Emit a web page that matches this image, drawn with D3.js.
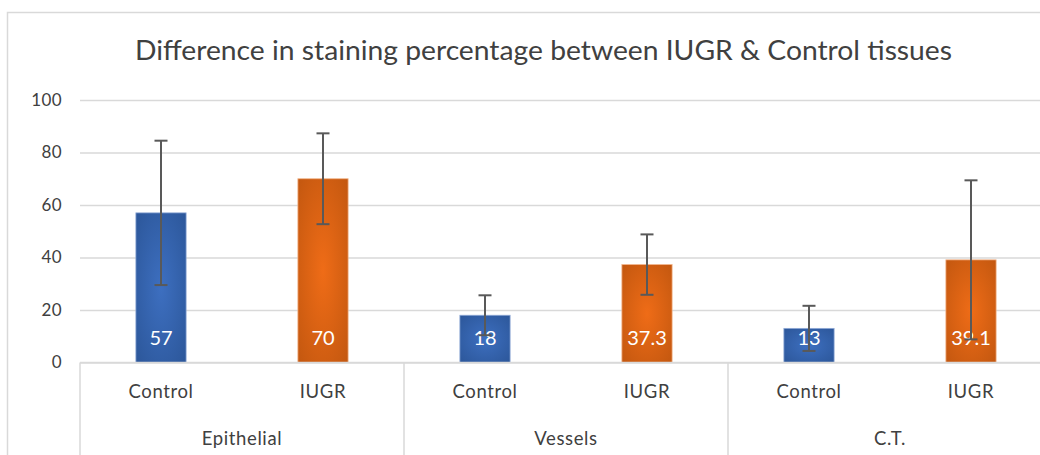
<!DOCTYPE html>
<html>
<head>
<meta charset="utf-8">
<script src="https://cdn.jsdelivr.net/npm/d3@7"></script>
<style>
body { margin: 0; background: #fff; }
svg { display: block; font-family: Lato, "Open Sans", sans-serif; }
</style>
</head>
<body>
<script>
// chart data
const groups = ["Epithelial", "Vessels", "C.T."];
const subgroups = ["Control", "IUGR"];
const controlValues = [57, 18, 13];
const iugrValues = [70, 37.3, 39.1];
const controlErrors = [27.5, 7.6, 8.6];
const iugrErrors = [17.3, 11.5, 30.3];
const yTicks = [0, 20, 40, 60, 80, 100];
const title = "Difference in staining percentage between IUGR & Control tissues";

function draw() {
const width = 1040;
const height = 455;
const left = 80, right = 1052, top = 100, bottom = 362.5;

const svg = d3.select("body")
	.append("svg")
	.attr("width", width)
	.attr("height", height);

const defs = svg.append("defs");
const grads = { Control: ["#3d6fc0", "#2b5597"], IUGR: ["#ef6c17", "#c0560f"] };
Object.keys(grads).forEach(k => {
	const g = defs.append("radialGradient").attr("id", "grad" + k)
		.attr("cx", "50%").attr("cy", "50%").attr("r", "75%");
	g.append("stop").attr("offset", "0%").attr("stop-color", grads[k][0]);
	g.append("stop").attr("offset", "100%").attr("stop-color", grads[k][1]);
});

// outer chart border (cropped on the right and bottom)
svg.append("rect")
	.attr("x", 7.5).attr("y", 12.5)
	.attr("width", 1100).attr("height", 500)
	.attr("fill", "none")
	.attr("stroke", "#d9d9d9")
	.attr("stroke-width", 1.5);

svg.append("text")
	.attr("x", 543.5).attr("y", 60)
	.attr("text-anchor", "middle")
	.attr("font-size", 26)
	.attr("fill", "#404040")
	.attr("textLength", 817)
	.attr("lengthAdjust", "spacingAndGlyphs")
	.text(title);

const y = d3.scaleLinear().domain([0, 100]).range([bottom, top]);
const x0 = d3.scaleBand().domain(groups).range([left, right]);
const x1 = d3.scaleBand().domain(subgroups).range([0, x0.bandwidth()])
	.paddingInner(0.69).paddingOuter(0.345);

const yAxis = svg.append("g")
	.attr("transform", "translate(" + left + ",0)")
	.call(d3.axisLeft(y).tickValues(yTicks).tickSize(-(right - left)).tickPadding(18));
yAxis.select(".domain").remove();
yAxis.selectAll(".tick line").attr("stroke", "#d9d9d9").attr("stroke-width", 1.5);
yAxis.selectAll(".tick text")
	.attr("font-size", 17)
	.attr("letter-spacing", 0.4)
	.attr("fill", "#404040")
	.attr("font-family", "Lato, sans-serif");

// rows for bars
const rows = [];
groups.forEach((g, i) => {
	rows.push({ group: g, sub: "Control", value: controlValues[i], err: controlErrors[i] });
	rows.push({ group: g, sub: "IUGR", value: iugrValues[i], err: iugrErrors[i] });
});
const cx = d => x0(d.group) + x1(d.sub) + x1.bandwidth() / 2;

svg.append("g").selectAll("rect")
	.data(rows)
	.enter()
	.append("rect")
	.attr("x", d => x0(d.group) + x1(d.sub))
	.attr("y", d => y(d.value))
	.attr("width", x1.bandwidth())
	.attr("height", d => y(0) - y(d.value))
	.attr("fill", d => "url(#grad" + d.sub + ")")
	.attr("stroke", d => d.sub === "Control" ? "#8fa9d6" : "#f2b48a")
	.attr("stroke-width", 0.8);

svg.append("g").selectAll("text")
	.data(rows)
	.enter()
	.append("text")
	.attr("x", cx)
	.attr("y", 345)
	.attr("text-anchor", "middle")
	.attr("font-size", 20)
	.attr("fill", "#ffffff")
	.text(d => d.value);

// error bars
const eb = svg.append("g").attr("stroke", "#595959").attr("stroke-width", 2);
rows.forEach(d => {
	const c = cx(d);
	eb.append("line").attr("x1", c).attr("x2", c)
		.attr("y1", y(d.value + d.err)).attr("y2", y(d.value - d.err));
	[d.value + d.err, d.value - d.err].forEach(v => {
		eb.append("line").attr("x1", c - 6.5).attr("x2", c + 6.5)
			.attr("y1", y(v)).attr("y2", y(v));
	});
});

// category axis: baseline, dividers, labels
svg.append("line")
	.attr("x1", left).attr("x2", right)
	.attr("y1", y(0)).attr("y2", y(0))
	.attr("stroke", "#d9d9d9").attr("stroke-width", 1.5);

const dividers = groups.map(g => x0(g)).concat([right]);
svg.append("g").selectAll("line")
	.data(dividers)
	.enter()
	.append("line")
	.attr("x1", d => d).attr("x2", d => d)
	.attr("y1", y(0)).attr("y2", height)
	.attr("stroke", "#d9d9d9").attr("stroke-width", 1.5);

svg.append("g").selectAll("text")
	.data(rows)
	.enter()
	.append("text")
	.attr("x", cx)
	.attr("y", 398)
	.attr("text-anchor", "middle")
	.attr("font-size", 18.5)
	.attr("letter-spacing", 0.6)
	.attr("fill", "#404040")
	.text(d => d.sub);

svg.append("g").selectAll("text")
	.data(groups)
	.enter()
	.append("text")
	.attr("x", d => x0(d) + x0.bandwidth() / 2)
	.attr("y", 445)
	.attr("text-anchor", "middle")
	.attr("font-size", 18.5)
	.attr("letter-spacing", 0.6)
	.attr("fill", "#404040")
	.text(d => d);
}
window.onload = draw;
</script>
</body>
</html>
